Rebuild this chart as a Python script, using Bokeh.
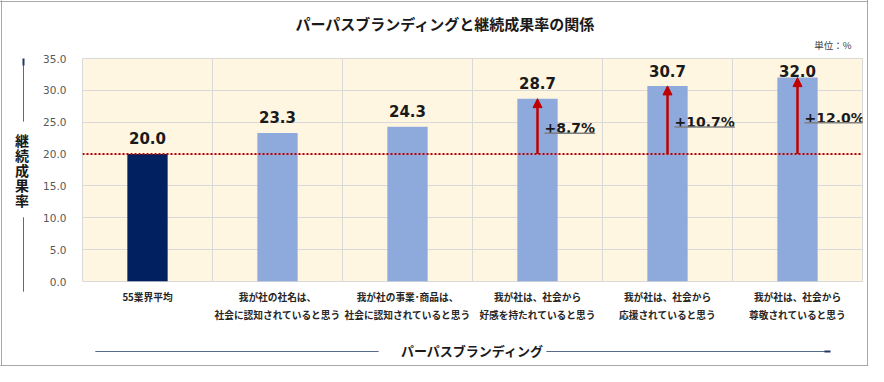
import numpy as np
from bokeh.plotting import figure
from bokeh.models import (Range1d, FixedTicker, PrintfTickFormatter, Span, Arrow,
                          NormalHead, LabelSet, ColumnDataSource, Title)
from bokeh.embed import file_html
from bokeh.resources import INLINE
from bokeh.core.properties import value

# ---- data ----
categories = [
    "55業界平均",
    "我が社の社名は、\n社会に認知されていると思う",
    "我が社の事業･商品は、\n社会に認知されていると思う",
    "我が社は、社会から\n好感を持たれていると思う",
    "我が社は、社会から\n応援されていると思う",
    "我が社は、社会から\n尊敬されていると思う",
]
rates = [20.0, 23.3, 24.3, 28.7, 30.7, 32.0]
value_labels = ["20.0", "23.3", "24.3", "28.7", "30.7", "32.0"]
baseline = 20.0
diff_idx = [3, 4, 5]
diff_labels = ["+8.7%", "+10.7%", "+12.0%"]
y_ticks = [0, 5, 10, 15, 20, 25, 30, 35]

title_text = "パーパスブランディングと継続成果率の関係"
unit_text = "単位：%"
y_title = "継続成果率"
x_title = "パーパスブランディング"

# ---- layout (canvas px) ----
W, H = 868, 366
FL, FR, FT, FB = 82, 862, 58, 281     # plot-area edges
YMAX = 35.0
ppu = (FB - FT) / YMAX
ppx = (FR - FL) / len(categories)

def sx(px):   # canvas px -> screen units (frame relative, y up)
    return px - FL

def sy(py):
    return FB - py

JP = "Noto Sans CJK JP"
NUM = "DejaVu Sans"
NAVY = "#203864"
RED = "#C00000"

xs = np.arange(len(categories)) + 0.5
colors = ["#002060"] + ["#8EA9DB"] * (len(categories) - 1)

p = figure(width=W, height=H, output_backend="svg", toolbar_location=None,
           x_range=Range1d(0, len(categories)), y_range=Range1d(0, YMAX),
           min_border_left=FL, min_border_right=W - FR,
           min_border_top=FT, min_border_bottom=H - FB)
p.background_fill_color = "#FEF6E1"
p.border_fill_color = "white"
p.outline_line_color = "#d9d9d9"
p.outline_line_width = 1

# titles (above, nearest first)
p.add_layout(Title(text=unit_text, align="right", offset=11, standoff=14,
                   text_font=JP, text_font_size="9.5px", text_font_style="normal",
                   text_color="#404040"), "above")
p.add_layout(Title(text=title_text, align="left", offset=295 - FL, standoff=-10,
                   text_font=JP, text_font_size="15px", text_font_style="bold",
                   text_color="#1a1a1a"), "above")

# grid
p.ygrid.ticker = FixedTicker(ticks=y_ticks)
p.ygrid.grid_line_color = "#d9d9d9"
p.xgrid.ticker = FixedTicker(ticks=list(range(1, len(categories))))
p.xgrid.grid_line_color = "#d9d9d9"

# y axis
yax = p.yaxis[0]
yax.ticker = FixedTicker(ticks=y_ticks)
yax.formatter = PrintfTickFormatter(format="%.1f")
yax.axis_line_color = None
yax.major_tick_line_color = None
yax.minor_tick_line_color = None
yax.major_label_text_font = NUM
yax.major_label_text_font_size = "10.5px"
yax.major_label_text_color = "#595959"
yax.major_label_standoff = 10
yax.axis_label = "\n".join(y_title)
yax.axis_label_text_font = JP
yax.axis_label_text_font_style = "bold"
yax.axis_label_text_font_size = "14px"
yax.axis_label_text_color = "#1a1a1a"
yax.axis_label_text_line_height = 0.74
yax.axis_label_standoff = 11
if "axis_label_orientation" in yax.properties():
    yax.axis_label_orientation = "horizontal"

# x axis
xax = p.xaxis[0]
xax.ticker = FixedTicker(ticks=list(xs))
xax.major_label_overrides = {float(x): c for x, c in zip(xs, categories)}
xax.axis_line_color = None
xax.major_tick_line_color = None
xax.minor_tick_line_color = None
xax.major_label_text_font = JP
xax.major_label_text_font_style = "bold"
xax.major_label_text_font_size = "9.7px"
xax.major_label_text_color = "#262626"
xax.major_label_text_line_height = 1.3
xax.major_label_standoff = 2
xax.axis_label = x_title
xax.axis_label_text_font = JP
xax.axis_label_text_font_style = "bold"
xax.axis_label_text_font_size = "13px"
xax.axis_label_text_color = "#1a1a1a"
xax.axis_label_standoff = 16

# ---- lines outside the plot area, drawn as chains of small arrow heads ----
def head_line(x0, y0, x1, y1, color=NAVY, w=2.5):
    n = int(max(abs(x1 - x0), abs(y1 - y0))) + 1
    t = np.linspace(0.0, 1.0, n)
    ex = x0 + (x1 - x0) * t
    ey = y0 + (y1 - y0) * t
    L = np.hypot(x1 - x0, y1 - y0)
    ux, uy_ = (x1 - x0) / L, (y1 - y0) / L
    hs = ColumnDataSource(dict(xs0=sx(ex - ux), ys0=sy(ey - uy_), xs1=sx(ex), ys1=sy(ey)))
    p.add_layout(Arrow(x_start="xs0", y_start="ys0", x_end="xs1", y_end="ys1", source=hs,
                       start_units="screen", end_units="screen",
                       line_color=color, line_width=1,
                       end=NormalHead(size=w, fill_color=color, line_color=color,
                                      line_width=0.5)))

head_line(23, 120, 23, 62)
head_line(23, 290, 23, 217)
head_line(96, 351, 378, 351)
head_line(547, 351, 826, 351)

# outer border
head_line(0, 1, W, 1, color="#8c8c8c", w=2)
head_line(W - 1, 0, W - 1, H, color="#8c8c8c", w=2)
head_line(W, H - 1, 0, H - 1, color="#8c8c8c", w=2)
head_line(1, H, 1, 0, color="#8c8c8c", w=2)

# arrow heads for the axis arrows
p.add_layout(Arrow(x_start=sx(23), y_start=sy(70), x_end=sx(23), y_end=sy(58),
                   start_units="screen", end_units="screen", line_color=NAVY, line_width=2,
                   end=NormalHead(size=7, fill_color=NAVY, line_color=NAVY)))
p.add_layout(Arrow(x_start=sx(815), y_start=sy(351), x_end=sx(830), y_end=sy(351),
                   start_units="screen", end_units="screen", line_color=NAVY, line_width=2,
                   end=NormalHead(size=6, fill_color=NAVY, line_color=NAVY)))

# ---- bars ----
src = ColumnDataSource(dict(x=xs, top=rates, color=colors, lab=value_labels,
                            ly=np.minimum(np.array(rates) + 16 / ppu, YMAX - 12 / ppu)))
p.vbar(x="x", top="top", width=0.31, fill_color="color", line_color=None, source=src)

# baseline
p.add_layout(Span(location=baseline, dimension="width", line_color=RED,
                  line_dash="2 2", line_width=2))

# value labels
p.text(x="x", y="ly", text="lab", source=src, text_align="center",
       text_baseline="middle", text_font=value(NUM), text_font_style="bold",
       text_font_size="15px", text_color="#1a1a1a")

# diff arrows and labels
char_w = {"+": 0.838, ".": 0.380, "%": 1.002}
def text_w(s, size=14):
    return sum(char_w.get(ch, 0.696) for ch in s) * size

dx = xs[diff_idx]
dtop = np.array(rates)[diff_idx]
dmid = (dtop + baseline) / 2
ux0 = dx + 7 / ppx
ux1 = ux0 + np.array([text_w(s) for s in diff_labels]) / ppx
uy = dmid - 7 / ppu
dsrc = ColumnDataSource(dict(x=dx, y0=[baseline] * len(dx), y1=dtop, mid=dmid,
                             lab=diff_labels, ux0=ux0, ux1=ux1, uy=uy))
p.add_layout(LabelSet(x="ux0", y="mid", text="lab", source=dsrc, y_offset=-2,
                      text_align="left", text_baseline="middle",
                      text_font=value(NUM), text_font_style="bold",
                      text_font_size="14px", text_color="#1a1a1a"))
p.add_layout(Arrow(x_start="x", y_start="y0", x_end="x", y_end="y1", source=dsrc,
                   line_color=RED, line_width=2.5,
                   end=NormalHead(size=9, fill_color=RED, line_color=RED)))
p.add_layout(Arrow(x_start="ux0", y_start="uy", x_end="ux1", y_end="uy", source=dsrc,
                   line_color="#7f7f7f", line_width=1.5, end=None))

open("out.html", "w").write(file_html(p, INLINE))
